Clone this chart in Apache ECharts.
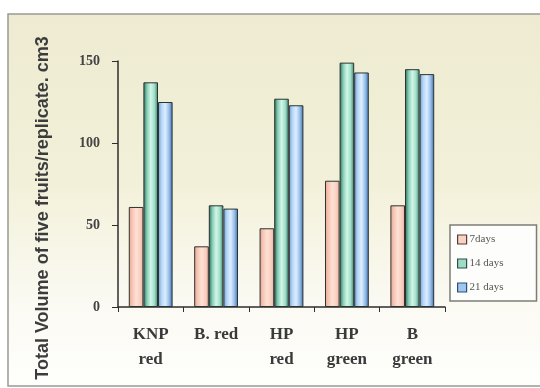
<!DOCTYPE html>
<html>
<head>
<meta charset="utf-8">
<script src="https://cdn.jsdelivr.net/npm/echarts@6/dist/echarts.min.js"></script>
<style>
  html, body { margin: 0; padding: 0; background: #ffffff; }
  #chart { width: 540px; height: 388px; }
</style>
</head>
<body>
<div id="chart"></div>
<script>
// Fruit varieties along the x axis
const categories = ['KNP\nred', 'B. red', 'HP\nred', 'HP\ngreen', 'B\ngreen'];
// Total volume (cm3) after each storage period
const days7 = [61, 37, 48, 77, 62];
const days14 = [137, 62, 127, 149, 145];
const days21 = [125, 60, 123, 143, 142];
const seriesNames = ['7days', '14 days', '21 days'];
const yTicks = [0, 50, 100, 150];

const serif = '"Liberation Serif", "DejaVu Serif", serif';

function hGrad(stops) {
  return new echarts.graphic.LinearGradient(0, 0, 1, 0,
    stops.map((c, i) => ({ offset: i / (stops.length - 1), color: c })));
}

const pinkFill = hGrad(['#e9a493', '#f7c7b6', '#fde1d5', '#f9d2c3', '#efb3a1']);
const greenFill = hGrad(['#2b6a5c', '#86cfb6', '#d3f5e8', '#a2e0ca', '#3a8272']);
const blueFill = hGrad(['#6b9bd3', '#b6d7f7', '#deedff', '#98c0ea', '#3c6fb1']);

const chart = echarts.init(document.getElementById('chart'), null, { renderer: 'canvas' });

function barSeries(name, data, fill) {
  return {
    name: name,
    type: 'bar',
    data: data,
    barGap: '0%',
    barCategoryGap: '33%',
    itemStyle: { color: fill, borderColor: '#2d332f', borderWidth: 1 },
    emphasis: { disabled: true }
  };
}

chart.setOption({
  animation: false,
  backgroundColor: '#ffffff',
  graphic: [
    {
      type: 'rect',
      z: -10,
      shape: { x: 8, y: 14, width: 540, height: 372 },
      style: {
        fill: new echarts.graphic.LinearGradient(0, 0, 0, 1, [
          { offset: 0, color: '#eeebd2' },
          { offset: 0.45, color: '#f3f0d9' },
          { offset: 0.78, color: '#fbfaf3' },
          { offset: 1, color: '#fefefc' }
        ]),
        stroke: '#9a9a94',
        lineWidth: 1.5
      }
    },
    {
      type: 'text',
      x: 43,
      y: 208,
      rotation: Math.PI / 2,
      style: {
        text: 'Total Volume of five fruits/replicate. cm3',
        font: 'bold 18px "Liberation Sans", Arial, sans-serif',
        fill: '#3c3c3c',
        align: 'center',
        verticalAlign: 'middle'
      }
    }
  ],
  grid: { left: 118, right: 95, top: 61, bottom: 81, containLabel: false },
  legend: {
    orient: 'vertical',
    left: 450,
    top: 225,
    padding: [9, 33, 8, 7],
    itemGap: 13,
    itemWidth: 9,
    itemHeight: 9,
    icon: 'rect',
    backgroundColor: '#fdfdfb',
    borderColor: '#7d7d78',
    borderWidth: 1.5,
    textStyle: { fontFamily: serif, fontSize: 11, color: '#555555', padding: [0, 0, 0, -2] },
    data: [
      { name: seriesNames[0], itemStyle: { color: '#f8d3c4', borderColor: '#5a3a34', borderWidth: 1.2 } },
      { name: seriesNames[1], itemStyle: { color: '#9fdcc8', borderColor: '#2f4f48', borderWidth: 1.2 } },
      { name: seriesNames[2], itemStyle: { color: '#9fc6ef', borderColor: '#2f4f78', borderWidth: 1.2 } }
    ]
  },
  xAxis: {
    type: 'category',
    data: categories,
    axisLine: { lineStyle: { color: '#2e2e2e', width: 1.5 } },
    axisTick: { show: true, length: 5, lineStyle: { color: '#2e2e2e' } },
    axisLabel: {
      margin: 15,
      fontFamily: serif,
      fontWeight: 'bold',
      fontSize: 17,
      lineHeight: 25,
      color: '#3a3a3a',
      verticalAlign: 'top'
    }
  },
  yAxis: {
    type: 'value',
    min: yTicks[0],
    max: yTicks[yTicks.length - 1],
    interval: yTicks[1] - yTicks[0],
    splitLine: { show: false },
    axisLine: { show: true, lineStyle: { color: '#2e2e2e', width: 1.5 } },
    axisTick: { show: true, length: 6, lineStyle: { color: '#2e2e2e' } },
    axisLabel: {
      margin: 18,
      fontFamily: serif,
      fontWeight: 'bold',
      fontSize: 14,
      color: '#444444'
    }
  },
  series: [
    barSeries(seriesNames[0], days7, pinkFill),
    barSeries(seriesNames[1], days14, greenFill),
    barSeries(seriesNames[2], days21, blueFill)
  ]
});
</script>
</body>
</html>
